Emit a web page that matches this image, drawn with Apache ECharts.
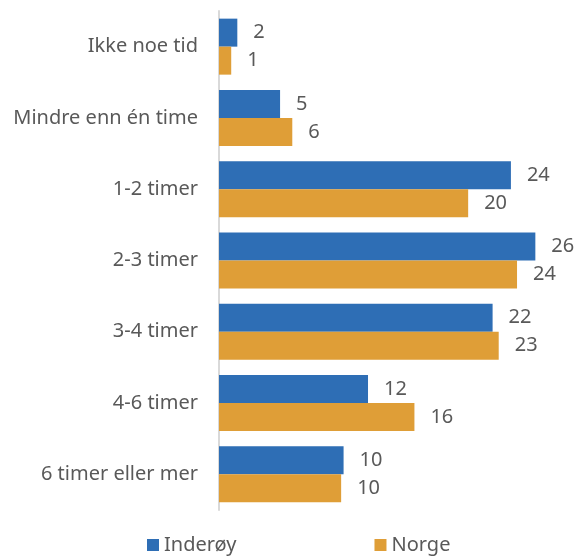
<!DOCTYPE html>
<html>
<head>
<meta charset="utf-8">
<script src="https://cdn.jsdelivr.net/npm/echarts@6/dist/echarts.min.js"></script>
<style>html,body{margin:0;padding:0;background:#fff}#c{width:578px;height:556px}</style>
</head>
<body>
<div id="c"></div>
<script>
const categories = ['Ikke noe tid', 'Mindre enn én time', '1-2 timer', '2-3 timer', '3-4 timer', '4-6 timer', '6 timer eller mer'];
const seriesNames = ['Inderøy', 'Norge'];
const inderoy = [1.5, 5.0, 23.9, 25.9, 22.4, 12.2, 10.2];
const norge = [1.0, 6.0, 20.4, 24.4, 22.9, 16.0, 10.0];

const font = 'Noto Sans';
const textColor = '#595959';
const chart = echarts.init(document.getElementById('c'), null, {renderer: 'canvas'});
const lbl = {
  show: true, position: 'right', distance: 16,
  fontFamily: font, fontSize: 20, color: textColor,
  formatter: p => Math.round(p.value)
};
chart.setOption({
  animation: false,
  grid: {left: 219, right: 17, top: 11, bottom: 46, containLabel: false},
  xAxis: {type: 'value', min: 0, max: 28, show: false, splitLine: {show: false}},
  yAxis: {
    type: 'category', data: categories, inverse: true,
    axisLine: {show: true, lineStyle: {color: '#d9d9d9', width: 2}},
    axisTick: {show: false},
    axisLabel: {fontFamily: font, fontSize: 20, color: textColor, margin: 21}
  },
  legend: {
    data: seriesNames, top: 530, left: 142,
    icon: 'rect', itemWidth: 12, itemHeight: 12, itemGap: 138,
    textStyle: {fontFamily: font, fontSize: 20, color: textColor}
  },
  series: [
    {name: seriesNames[0], type: 'bar', data: inderoy, barWidth: 28, barGap: '0%',
     itemStyle: {color: '#2e6eb5'}, label: lbl},
    {name: seriesNames[1], type: 'bar', data: norge, barWidth: 28, barGap: '0%',
     itemStyle: {color: '#df9e37'}, label: lbl}
  ]
});
</script>
</body>
</html>
